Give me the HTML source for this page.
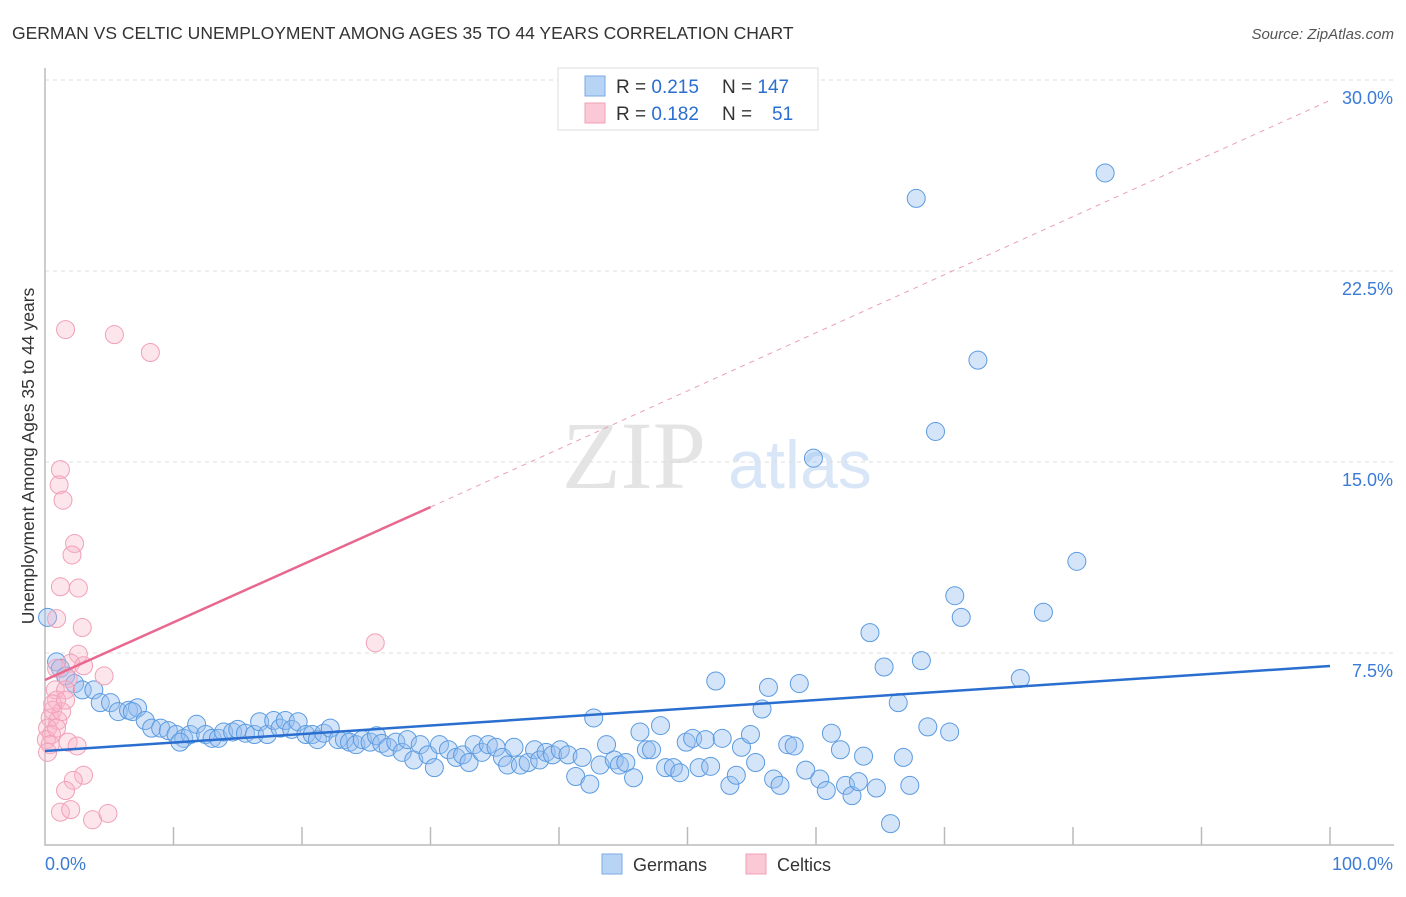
<!DOCTYPE html>
<html><head><meta charset="utf-8"><style>
body{margin:0;background:#fff;font-family:"Liberation Sans",sans-serif;}
</style></head><body>
<svg id="c" width="1406" height="892" xmlns="http://www.w3.org/2000/svg">
<text x="12" y="39" font-size="17.5" fill="#333">GERMAN VS CELTIC UNEMPLOYMENT AMONG AGES 35 TO 44 YEARS CORRELATION CHART</text>
<text x="1394" y="39" font-size="15" fill="#555" font-style="italic" text-anchor="end">Source: ZipAtlas.com</text>
<text x="634" y="488" font-size="96" fill="#e4e4e4" font-family="Liberation Serif,serif" text-anchor="middle">ZIP</text>
<text x="800" y="488" font-size="68" fill="#d8e6f7" text-anchor="middle">atlas</text>
<text transform="translate(34,456) rotate(-90)" font-size="17.5" fill="#333" text-anchor="middle">Unemployment Among Ages 35 to 44 years</text>
<g id="grid"></g><g id="axes"></g><g id="pts"></g><g id="lines"></g>
<g>
<rect x="558" y="68" width="260" height="62" fill="#fff" stroke="#ddd"/>
<rect x="585" y="76" width="20" height="20" fill="#b8d4f5" stroke="#7aaae6"/>
<rect x="585" y="103" width="20" height="20" fill="#fbc8d6" stroke="#f0a0b8"/>
<text x="616" y="93" font-size="19" fill="#333">R = <tspan fill="#2a6fd0">0.215</tspan></text>
<text x="722" y="93" font-size="19" fill="#333">N = <tspan fill="#2a6fd0">147</tspan></text>
<text x="616" y="120" font-size="19" fill="#333">R = <tspan fill="#2a6fd0">0.182</tspan></text>
<text x="722" y="120" font-size="19" fill="#333">N = <tspan fill="#2a6fd0" x="772">51</tspan></text>
</g>
<g>
<rect x="602" y="854" width="20" height="20" fill="#b8d4f5" stroke="#7aaae6"/>
<text x="633" y="871" font-size="18" fill="#333">Germans</text>
<rect x="746" y="854" width="20" height="20" fill="#fbc8d6" stroke="#f0a0b8"/>
<text x="777" y="871" font-size="18" fill="#333">Celtics</text>
</g>
</svg>
<script>
const yTicks=[7.5,15,22.5,30];
const yTickLabels=["7.5%","15.0%","22.5%","30.0%"];
const xTickLabels=["0.0%","100.0%"];
const germansX=[0.2,0.9,1.2,1.6,2.3,2.9,3.8,4.3,5.1,5.7,6.5,7.2,6.8,7.8,8.3,9,9.6,10.2,10.8,11.3,11.8,12.5,13,13.5,13.9,14.6,15,15.6,16.3,16.7,17.3,17.8,18.3,18.7,19.2,19.7,20.3,20.8,21.2,21.7,22.2,22.8,23.3,23.7,24.2,24.7,25.3,25.8,26.2,26.7,27.3,27.8,28.2,28.7,29.2,29.8,30.3,30.7,31.4,32,32.5,33,33.4,34,34.5,35.1,35.6,36,36.5,37,37.6,38.1,38.5,39,39.5,40.1,40.7,41.3,41.8,42.4,42.7,43.2,43.7,44.3,44.7,45.2,45.8,46.3,46.8,47.2,47.9,48.3,48.9,49.4,49.9,50.4,50.9,51.4,51.8,52.2,52.7,53.3,53.8,54.2,54.9,55.3,55.8,56.3,56.7,57.2,57.8,58.3,58.7,59.2,59.8,60.3,60.8,61.2,61.9,62.3,62.8,63.3,63.7,64.2,64.7,65.3,65.8,66.4,66.8,67.3,67.8,68.2,68.7,69.3,70.4,70.8,71.3,72.6,75.9,77.7,80.3,82.5,10.5];
const germansY=[8.9,7.15,6.9,6.6,6.3,6.05,6.05,5.55,5.55,5.2,5.25,5.35,5.2,4.85,4.55,4.55,4.45,4.3,4.15,4.3,4.7,4.3,4.15,4.15,4.4,4.4,4.5,4.35,4.3,4.8,4.3,4.85,4.55,4.85,4.5,4.8,4.3,4.3,4.1,4.35,4.55,4.1,4.1,4.0,3.9,4.1,4.0,4.25,3.95,3.8,4.0,3.6,4.1,3.3,3.9,3.5,3.0,3.9,3.7,3.4,3.5,3.2,3.9,3.6,3.9,3.8,3.4,3.1,3.8,3.1,3.2,3.7,3.3,3.6,3.5,3.7,3.5,2.65,3.4,2.35,4.95,3.1,3.9,3.3,3.1,3.2,2.6,4.4,3.7,3.7,4.65,3.0,3.0,2.8,4.0,4.15,3.0,4.1,3.05,6.4,4.15,2.3,2.7,3.8,4.3,3.2,5.3,6.15,2.55,2.3,3.9,3.85,6.3,2.9,15.15,2.55,2.1,4.35,3.7,2.3,1.9,2.45,3.45,8.3,2.2,6.95,0.8,5.55,3.4,2.3,25.35,7.2,4.6,16.2,4.4,9.75,8.9,19.0,6.5,9.1,11.1,26.35,4.0];
const celticsX=[1.6,5.4,8.2,1.2,1.1,1.4,2.3,2.1,1.2,2.6,0.9,2.9,25.7,2.6,2.0,3.0,0.9,4.6,1.8,0.8,1.6,0.9,0.6,0.4,1.0,0.2,0.5,0.1,0.4,1.8,2.5,0.2,3.0,2.2,1.6,1.2,2.0,3.7,4.9,1.3,0.9,0.6,1.6];
const celticsY=[20.2,20.0,19.3,14.7,14.1,13.5,11.8,11.35,10.1,10.05,8.85,8.5,7.9,7.45,7.1,7.0,6.9,6.6,6.5,6.05,6.05,5.65,5.25,4.95,4.85,4.55,4.3,4.1,3.9,4.0,3.85,3.6,2.7,2.5,2.1,1.25,1.35,0.95,1.2,5.2,4.55,5.5,5.65];
const germansTrend=[3.65,6.99];
const celticsTrend=[6.44,13.23,29.2];
const NS="http://www.w3.org/2000/svg";
const X0=45,X1=1330,Y0=844,Y30=80;
const sx=v=>X0+(X1-X0)*v/100;
const sy=v=>Y0-(Y0-Y30)*v/30;
function mk(tag,at,parent){const e=document.createElementNS(NS,tag);for(const k in at)e.setAttribute(k,at[k]);document.getElementById(parent).appendChild(e);return e;}
yTicks.forEach((t,i)=>{
 const g=mk('line',{x1:45,x2:1394,y1:sy(t),y2:sy(t),stroke:'#ddd','stroke-dasharray':'4,4'},'grid');
 
 
 const l=mk('text',{x:1393,y:sy(t)+24,'font-size':18,fill:'#3a7bd5','text-anchor':'end'},'grid');
 l.textContent=yTickLabels[i];
 
 
});
const ax=mk('path',{d:`M45 68V845H1394`,stroke:'#bbb',fill:'none','stroke-width':1.5},'axes');


for(let k=1;k<=10;k++){const t=mk('line',{x1:sx(k*10),x2:sx(k*10),y1:827,y2:845,stroke:'#bbb','stroke-width':1.5},'axes');
 
 }
[[0,'start',45],[100,'end',1393]].forEach((d,i)=>{const t=mk('text',{x:d[2],y:870,'font-size':18,fill:'#3a7bd5','text-anchor':d[1]},'axes');t.textContent=xTickLabels[i];
 
 });
germansX.forEach((x,i)=>{const c=mk('circle',{cx:sx(x),cy:sy(germansY[i]),r:9,fill:'rgba(150,190,240,0.4)',stroke:'#5b9be0','stroke-width':1},'pts');
 
 });
celticsX.forEach((x,i)=>{const c=mk('circle',{cx:sx(x),cy:sy(celticsY[i]),r:9,fill:'rgba(248,180,200,0.35)',stroke:'#f0a0b8','stroke-width':1},'pts');
 
 });
const bl=mk('line',{x1:sx(0),y1:sy(germansTrend[0]),x2:sx(100),y2:sy(germansTrend[1]),stroke:'#2a6fd0','stroke-width':2.5},'lines');


const pl=mk('line',{x1:sx(0),y1:sy(celticsTrend[0]),x2:sx(30),y2:sy(celticsTrend[1]),stroke:'#e8688f','stroke-width':2.5},'lines');


const pd=mk('line',{x1:sx(30),y1:sy(celticsTrend[1]),x2:sx(100),y2:sy(celticsTrend[2]),stroke:'#e8a0b4','stroke-width':1,'stroke-dasharray':'5,5'},'lines');


</script>
</body></html>
